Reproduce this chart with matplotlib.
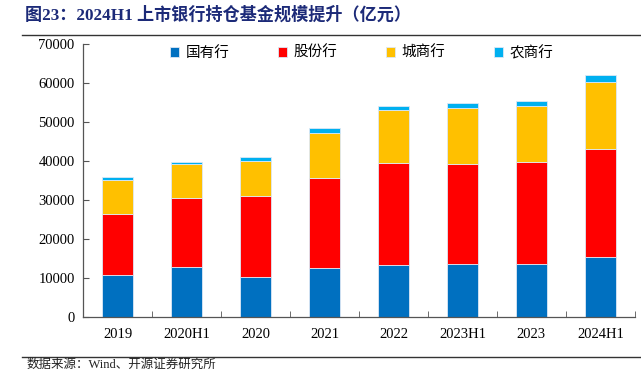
import numpy as np
import matplotlib
matplotlib.use('Agg')
import matplotlib.pyplot as plt
from matplotlib.lines import Line2D

plt.rcParams['font.family'] = ['Liberation Serif', 'Noto Sans CJK SC']

# 数据（亿元）
categories = ['2019', '2020H1', '2020', '2021', '2022', '2023H1', '2023', '2024H1']
guoyou = [10800, 12800, 10300, 12600, 13300, 13700, 13700, 15400]
gufen = [15600, 17900, 20700, 23200, 26200, 25500, 26200, 27700]
chengshang = [8900, 8550, 9100, 11400, 13650, 14500, 14350, 17100]
nongshang = [600, 600, 1000, 1300, 1050, 1200, 1300, 1800]

series = [('国有行', guoyou, '#0070C0'),
          ('股份行', gufen, '#FF0000'),
          ('城商行', chengshang, '#FFC000'),
          ('农商行', nongshang, '#00B0F0')]

fig = plt.figure(figsize=(6.41, 3.88), dpi=100)
ax = fig.add_axes([0.1295, 0.182, 0.861, 0.704])

x = np.arange(len(categories))
bottom = np.zeros(len(categories))
for name, vals, color in series:
    ax.bar(x, vals, width=0.44, bottom=bottom, color=color, label=name,
           edgecolor='#DDE8F5', linewidth=0.6)
    bottom += np.array(vals)

ax.set_xlim(-0.5, len(categories) - 0.5)
ax.set_ylim(0, 70000)
ax.set_yticks(np.arange(0, 70001, 10000))
ax.tick_params(axis='y', direction='in', length=4, labelsize=10.5, pad=6, color='#555555')
ax.set_xticks(x)
ax.set_xticklabels(categories, fontsize=10.5)
ax.tick_params(axis='x', length=0, pad=8)
ax.set_xticks(np.arange(0.5, len(categories) - 0.4, 1), minor=True)
ax.tick_params(axis='x', which='minor', direction='in', length=4, color='#555555')
for s in ['top', 'right']:
    ax.spines[s].set_visible(False)
for s in ['left', 'bottom']:
    ax.spines[s].set_color('#555555')
    ax.spines[s].set_linewidth(0.9)

leg = ax.legend(ncol=4, loc='center', bbox_to_anchor=(0.505, 0.968), frameon=False,
                fontsize=10.5, handlelength=0.6, handleheight=0.6, columnspacing=3.35,
                handletextpad=0.45)

# 标题和来源
fig.text(0.039, 0.962, '图23：2024H1 上市银行持仓基金规模提升（亿元）', fontsize=12.3,
         fontweight='bold', color='#1C2A78', va='center', ha='left')
fig.add_artist(Line2D([0.035, 1.0], [0.909, 0.909], color='#333333', linewidth=1.0))
fig.add_artist(Line2D([0.035, 1.0], [0.080, 0.080], color='#333333', linewidth=1.0))
fig.text(0.041, 0.060, '数据来源：Wind、开源证券研究所', fontsize=9, color='#222222',
         va='center', ha='left')

fig.savefig('out.png', dpi=100)
